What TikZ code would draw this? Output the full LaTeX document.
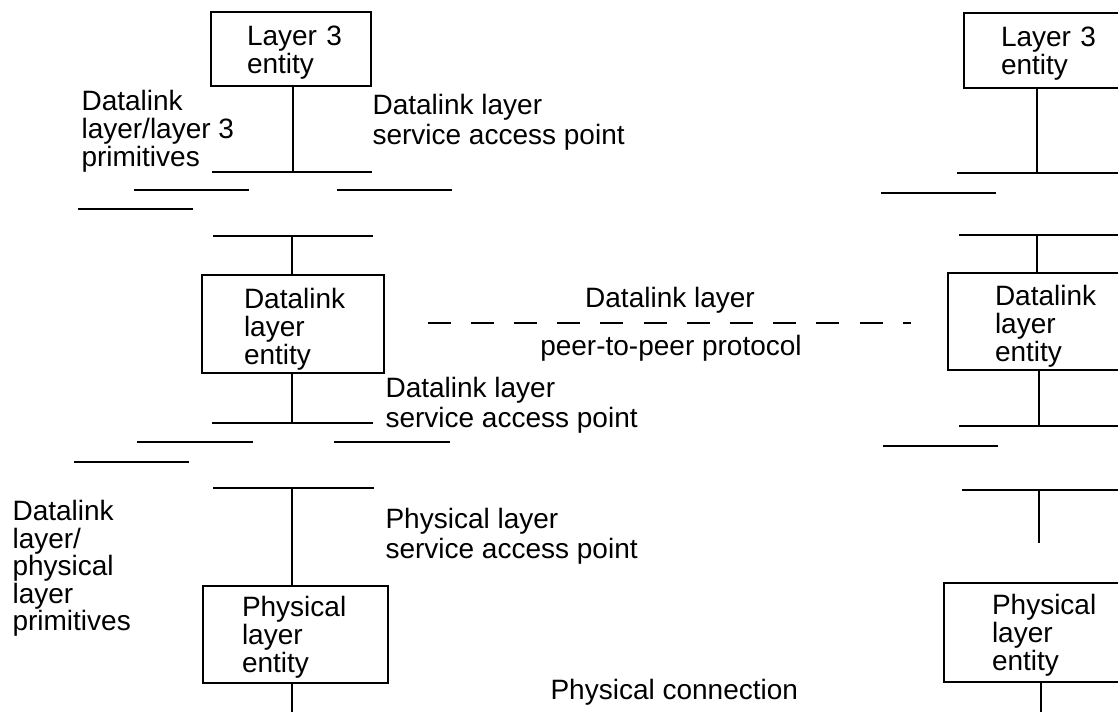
\documentclass[tikz,border=0pt]{standalone}
\usepackage{fontspec}
\setmainfont{Liberation Sans}
\hfuzz=40pt
\begin{document}
\begin{tikzpicture}[x=1pt,y=-1pt,line width=1.1pt,
  every node/.style={font=\fontsize{28}{28}\selectfont,inner sep=0pt},
  box/.style={draw,align=left},
  lbl/.style={anchor=north west,align=left},
  sap/.style={lbl,font=\fontsize{28}{30}\selectfont},
  peer/.style={dash pattern=on 23pt off 20.2pt}]
\useasboundingbox (0,0) rectangle (1118,712);
\clip (0,0) rectangle (1118,712);
% ---------- left stack ----------
\node[box,minimum width=160pt,minimum height=74pt,text width=88pt] (L3a) at (291,49)
  {\rule{0pt}{26pt}Layer~3\\entity};
\node[box,minimum width=182pt,minimum height=98pt,text width=98pt] (DLa) at (293,324)
  {\rule{0pt}{30pt}Datalink\\layer\\entity};
\node[box,minimum width=185pt,minimum height=97pt,text width=107pt] (PHa) at (295.5,634.5)
  {\rule{0pt}{25pt}Physical\\layer\\entity};
% ---------- right stack ----------
\node[box,minimum width=160pt,minimum height=75pt,text width=86pt] (L3b) at (1044,50.5)
  {\rule{0pt}{26pt}Layer~3\\entity};
\node[box,minimum width=182pt,minimum height=97pt,text width=88pt] (DLb) at (1039,321.5)
  {\rule{0pt}{30pt}Datalink\\layer\\entity};
\node[box,minimum width=185pt,minimum height=99pt,text width=89pt] (PHb) at (1036.5,632.5)
  {\rule{0pt}{25pt}Physical\\layer\\entity};
% ---------- coordinates: left ----------
\coordinate (sapA) at (293,172); \coordinate (sapAl) at (212,172); \coordinate (sapAr) at (372,172);
\coordinate (p1l) at (134,190); \coordinate (p1r) at (249,190);
\coordinate (p2l) at (337,190); \coordinate (p2r) at (452,190);
\coordinate (p3l) at (78,209);  \coordinate (p3r) at (193,209);
\coordinate (sapB) at (292,236); \coordinate (sapBl) at (213,236); \coordinate (sapBr) at (373,236);
\coordinate (sapC) at (292,423); \coordinate (sapCl) at (212,423); \coordinate (sapCr) at (373,423);
\coordinate (p4l) at (137,442); \coordinate (p4r) at (253,442);
\coordinate (p5l) at (334,442); \coordinate (p5r) at (450,442);
\coordinate (p6l) at (74,462);  \coordinate (p6r) at (189,462);
\coordinate (sapD) at (292,488); \coordinate (sapDl) at (213,488); \coordinate (sapDr) at (374,488);
\coordinate (botA) at (292,712);
% ---------- coordinates: right ----------
\coordinate (sapE) at (1037,173); \coordinate (sapEl) at (957,173); \coordinate (sapEr) at (1118,173);
\coordinate (p7l) at (881,193); \coordinate (p7r) at (996,193);
\coordinate (sapF) at (1037,235); \coordinate (sapFl) at (959,235); \coordinate (sapFr) at (1118,235);
\coordinate (sapG) at (1039,426); \coordinate (sapGl) at (959,426); \coordinate (sapGr) at (1118,426);
\coordinate (p8l) at (883,446); \coordinate (p8r) at (998,446);
\coordinate (sapH) at (1039,490); \coordinate (sapHl) at (962,490); \coordinate (sapHr) at (1118,490);
\coordinate (endH) at (1039,543);
\coordinate (botB) at (1041,712);
\coordinate (pp) at (0,323);
% ---------- left connectors ----------
\draw (L3a.south -| sapA) -- (sapA);
\draw (sapAl) -- (sapAr);
\draw (p1l) -- (p1r); \draw (p2l) -- (p2r); \draw (p3l) -- (p3r);
\draw (sapBl) -- (sapBr);
\draw (sapB) -- (DLa.north -| sapB);
\draw (DLa.south -| sapC) -- (sapC);
\draw (sapCl) -- (sapCr);
\draw (p4l) -- (p4r); \draw (p5l) -- (p5r); \draw (p6l) -- (p6r);
\draw (sapDl) -- (sapDr);
\draw (sapD) -- (PHa.north -| sapD);
\draw (PHa.south -| botA) -- (botA);
% ---------- right connectors ----------
\draw (L3b.south -| sapE) -- (sapE);
\draw (sapEl) -- (sapEr);
\draw (p7l) -- (p7r);
\draw (sapFl) -- (sapFr);
\draw (sapF) -- (DLb.north -| sapF);
\draw (DLb.south -| sapG) -- (sapG);
\draw (sapGl) -- (sapGr);
\draw (p8l) -- (p8r);
\draw (sapHl) -- (sapHr);
\draw (sapH) -- (endH);
\draw (PHb.south -| botB) -- (botB);
% ---------- peer-to-peer ----------
\draw[peer,shorten <=43pt,shorten >=36pt] (DLa.east |- pp) -- (DLb.west |- pp);
% ---------- labels ----------
\node[lbl] (primA) at (81,86) {\rule{0pt}{24pt}Datalink\\layer/layer 3\\primitives};
\node[sap] (sapAtxt) at (372,90) {\rule{0pt}{24pt}Datalink layer\\service access point};
\node[sap] (sapCtxt) at (385,373) {\rule{0pt}{24pt}Datalink layer\\service access point};
\node[sap] (sapDtxt) at (385,504) {\rule{0pt}{24pt}Physical layer\\service access point};
\node[lbl,font=\fontsize{28}{27.5}\selectfont] (primB) at (12,496)
  {\rule{0pt}{24pt}Datalink\\layer/\\physical\\layer\\primitives};
\node[anchor=base] (peerA) at (670,307) {Datalink layer};
\node[anchor=base] (peerB) at (671,355) {peer-to-peer protocol};
\node[anchor=base west] (phys) at (550,699) {Physical connection};
\end{tikzpicture}
\end{document}
